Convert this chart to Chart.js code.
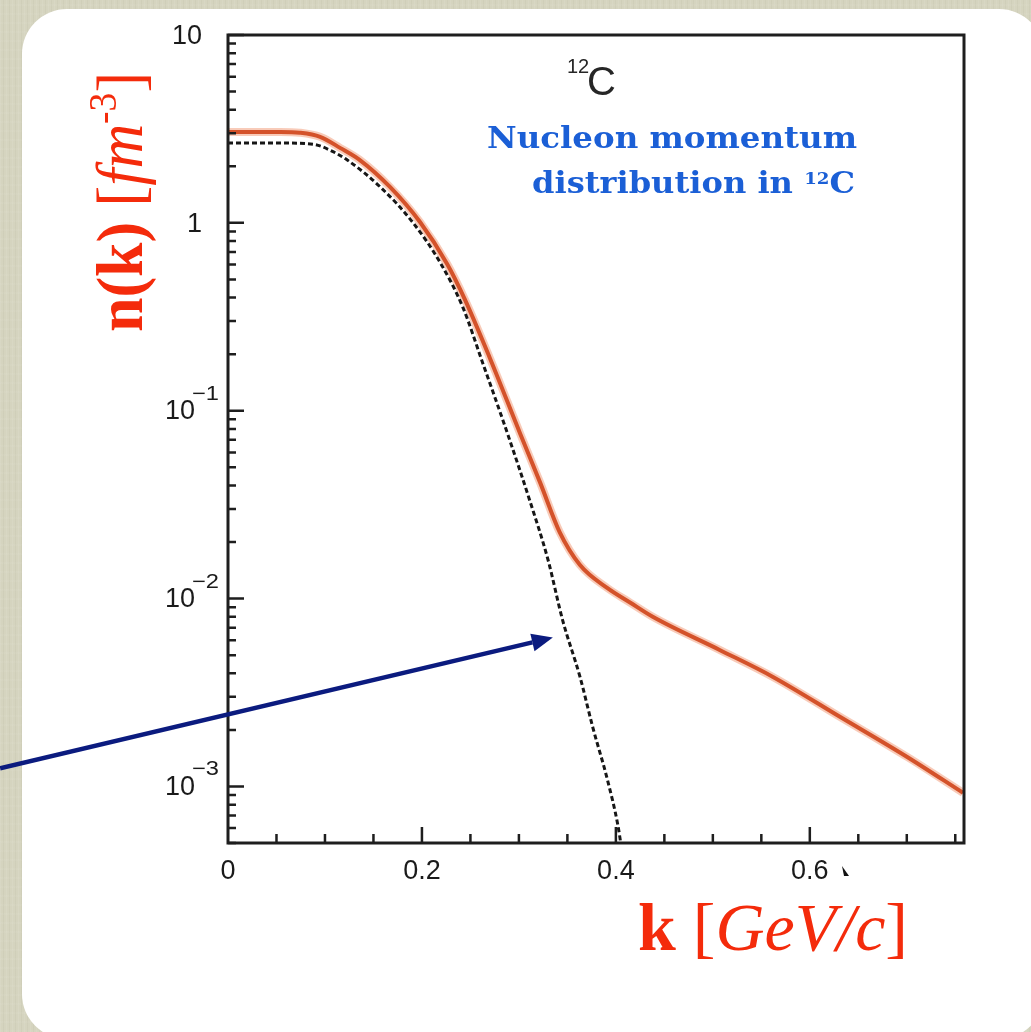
<!DOCTYPE html>
<html>
<head>
<meta charset="utf-8">
<script src="https://cdn.jsdelivr.net/npm/chart.js@4.4.1/dist/chart.umd.min.js"></script>
<style>
  html, body { margin: 0; padding: 0; }
  body {
    width: 1031px; height: 1032px; overflow: hidden; position: relative;
    background-color: #d5d4bf;
    background-image:
      repeating-linear-gradient(90deg, rgba(255,255,255,0.07) 0 1px, rgba(0,0,0,0) 1px 3px, rgba(120,118,90,0.06) 3px 4px, rgba(0,0,0,0) 4px 6px),
      repeating-linear-gradient(0deg, rgba(255,255,255,0.04) 0 2px, rgba(0,0,0,0) 2px 9px);
  }
  #panel { position: absolute; left: 22px; top: 9px; width: 1022px; height: 1030px; background: #fff; border-radius: 45px; }
  #chart { position: absolute; left: 0; top: 0; }
</style>
</head>
<body>
<div id="panel"></div>
<canvas id="chart" width="1031" height="1032"></canvas>
<script>
// momentum k [GeV/c] and n(k) [fm^-3]
const kFull = [0, 0.054, 0.074, 0.095, 0.116, 0.136, 0.167, 0.198, 0.226, 0.244, 0.270, 0.301, 0.322, 0.342, 0.363, 0.391, 0.415, 0.438, 0.507, 0.562, 0.631, 0.700, 0.758]
const nFull = [3.05, 3.05, 3.02, 2.87, 2.50, 2.16, 1.553, 1.01, 0.604, 0.394, 0.191, 0.0762, 0.0413, 0.0226, 0.0151, 0.0114, 0.0095, 0.0080, 0.00533, 0.00383, 0.00235, 0.00144, 0.000925]

// dashed curve (mean field part)
const kMF = [0, 0.054, 0.088, 0.105, 0.123, 0.157, 0.191, 0.219, 0.242, 0.263, 0.288, 0.311, 0.330, 0.345, 0.363, 0.376, 0.391, 0.402, 0.405]
const nMF = [2.66, 2.66, 2.62, 2.44, 2.16, 1.553, 0.999, 0.612, 0.357, 0.1775, 0.0762, 0.0335, 0.0161, 0.0077, 0.00383, 0.00208, 0.0011, 0.000625, 0.000501]

const xTickValues = [0, 0.2, 0.4, 0.6]
const xTickLabels = ['0', '0.2', '0.4', '0.6']
const yTickValues = [10, 1, 0.1, 0.01, 0.001]
const yTickBases = ['10', '1', '10', '10', '10']
const yTickExps = ['', '', '\u22121', '\u22122', '\u22123']

// arrow pointing at the dashed curve (data coordinates)
const arrowTail = { k: -0.235, n: 0.00125 }
const arrowHead = { k: 0.335, n: 0.0062 }

const RED = '#f42b0b'
const BLUE = '#1b5fd6'
const SANS = '"Liberation Sans", Arial, sans-serif'
const SERIF = '"Liberation Serif", serif'

function toPoints(xs, ys) {
  return xs.map((x, i) => ({ x: x, y: ys[i] }))
}

// draw a list of text runs on one baseline, squeezed/stretched to a target width
function drawRuns(ctx, runs, x, y, width) {
  let total = 0
  runs.forEach(r => { ctx.font = r.f; total += ctx.measureText(r.t).width })
  const sx = width ? width / total : 1
  ctx.save()
  ctx.translate(x, y)
  ctx.scale(sx, 1)
  let cx = 0
  runs.forEach(r => {
    ctx.font = r.f
    ctx.fillText(r.t, cx, r.dy || 0)
    cx += ctx.measureText(r.t).width
  })
  ctx.restore()
}

const decorations = {
  id: 'decorations',
  afterDraw(chart) {
    const { ctx, chartArea: a, scales: { x, y } } = chart
    ctx.save()

    // frame
    ctx.strokeStyle = '#1e1e1e'
    ctx.lineWidth = 3
    ctx.strokeRect(a.left, a.top, a.right - a.left, a.bottom - a.top)

    // inward ticks
    ctx.lineWidth = 2.5
    ctx.beginPath()
    for (let i = 1; i * 0.05 <= x.max + 1e-9; i++) {
      const v = i * 0.05
      const major = Math.abs(v / 0.2 - Math.round(v / 0.2)) < 1e-6
      const px = x.getPixelForValue(v)
      ctx.moveTo(px, a.bottom)
      ctx.lineTo(px, a.bottom - (major ? 16 : 9))
    }
    for (let e = -4; e <= 1; e++) {
      for (let m = 1; m <= 9; m++) {
        const v = m * Math.pow(10, e)
        if (v < y.min * 0.999 || v > y.max * 1.001) continue
        const py = y.getPixelForValue(v)
        ctx.moveTo(a.left, py)
        ctx.lineTo(a.left + (m === 1 ? 16 : 8), py)
      }
    }
    ctx.stroke()

    // tick labels
    ctx.fillStyle = '#1a1a1a'
    ctx.font = '27px ' + SANS
    ctx.textAlign = 'center'
    ctx.textBaseline = 'middle'
    xTickValues.forEach((v, i) => {
      ctx.fillText(xTickLabels[i], x.getPixelForValue(v), a.bottom + 29)
    })
    yTickValues.forEach((v, i) => {
      const py = y.getPixelForValue(v)
      ctx.font = '27px ' + SANS
      ctx.textBaseline = 'middle'
      if (!yTickExps[i]) {
        ctx.textAlign = 'right'
        ctx.fillText(yTickBases[i], a.left - 26, py + 2)
      } else {
        ctx.textAlign = 'right'
        ctx.fillText(yTickBases[i], a.left - 33, py + 1)
        ctx.textAlign = 'left'
        ctx.textBaseline = 'alphabetic'
        drawRuns(ctx, [{ t: yTickExps[i], f: '20px ' + SANS }], a.left - 36, py - 11, 27)
      }
    })

    // 12C label
    ctx.textAlign = 'left'
    ctx.textBaseline = 'alphabetic'
    ctx.fillStyle = '#262626'
    ctx.font = '20px ' + SANS
    ctx.fillText('12', 567, 73)
    ctx.font = '40px ' + SANS
    ctx.fillText('C', 587, 95)

    // blue annotation
    ctx.fillStyle = BLUE
    const bf = 'bold 30px "DejaVu Serif", serif'
    drawRuns(ctx, [{ t: 'Nucleon momentum', f: bf }], 487, 148, 370)
    drawRuns(ctx, [
      { t: 'distribution in ', f: bf },
      { t: '12', f: 'bold 17px "DejaVu Serif", serif', dy: -9 },
      { t: 'C', f: bf }
    ], 532, 193, 323)

    // axis titles
    ctx.fillStyle = RED
    drawRuns(ctx, [
      { t: 'k', f: 'bold 68px ' + SERIF },
      { t: ' [', f: '68px ' + SERIF },
      { t: 'GeV/c', f: 'italic 68px ' + SERIF },
      { t: ']', f: '68px ' + SERIF }
    ], 638, 950, 270)

    ctx.save()
    ctx.translate(142, 332)
    ctx.rotate(-Math.PI / 2)
    drawRuns(ctx, [
      { t: 'n(k)', f: 'bold 66px ' + SERIF },
      { t: ' [', f: '66px ' + SERIF },
      { t: 'fm', f: 'italic 66px ' + SERIF },
      { t: '-3', f: '40px ' + SERIF, dy: -26 },
      { t: ']', f: '66px ' + SERIF }
    ], 0, 0, 260)
    ctx.restore()

    // arrow
    const x0 = x.getPixelForValue(arrowTail.k), y0 = y.getPixelForValue(arrowTail.n)
    const x1 = x.getPixelForValue(arrowHead.k), y1 = y.getPixelForValue(arrowHead.n)
    const ang = Math.atan2(y1 - y0, x1 - x0)
    const hl = 21, hw = 9
    const bx = x1 - hl * Math.cos(ang), by = y1 - hl * Math.sin(ang)
    ctx.strokeStyle = '#0b1b7f'
    ctx.fillStyle = '#0b1b7f'
    ctx.lineWidth = 4.5
    ctx.beginPath()
    ctx.moveTo(x0, y0)
    ctx.lineTo(bx, by)
    ctx.stroke()
    ctx.beginPath()
    ctx.moveTo(x1, y1)
    ctx.lineTo(bx + hw * Math.sin(ang), by - hw * Math.cos(ang))
    ctx.lineTo(bx - hw * Math.sin(ang), by + hw * Math.cos(ang))
    ctx.closePath()
    ctx.fill()

    // small cursor mark near the 0.6 label
    ctx.fillStyle = '#111'
    ctx.beginPath()
    ctx.moveTo(842, 866)
    ctx.lineTo(849, 876)
    ctx.lineTo(844, 876)
    ctx.closePath()
    ctx.fill()

    ctx.restore()
  }
}

new Chart(document.getElementById('chart'), {
  type: 'scatter',
  data: {
    datasets: [
      {
        label: 'mean field',
        data: toPoints(kMF, nMF),
        showLine: true,
        borderColor: '#161616',
        borderWidth: 3,
        borderDash: [5, 3],
        pointRadius: 0,
        cubicInterpolationMode: 'monotone'
      },
      {
        label: 'full',
        data: toPoints(kFull, nFull),
        showLine: true,
        borderColor: '#d4522a',
        borderWidth: 4,
        pointRadius: 0,
        cubicInterpolationMode: 'monotone'
      },
      {
        label: 'full halo',
        data: toPoints(kFull, nFull),
        showLine: true,
        borderColor: 'rgba(240,140,100,0.45)',
        borderWidth: 8,
        pointRadius: 0,
        cubicInterpolationMode: 'monotone'
      }
    ]
  },
  options: {
    responsive: false,
    animation: false,
    events: [],
    layout: { padding: { left: 228, right: 67, top: 35, bottom: 189 } },
    scales: {
      x: { type: 'linear', min: 0, max: 0.759, display: false },
      y: { type: 'logarithmic', min: 5e-4, max: 10, display: false }
    },
    plugins: {
      legend: { display: false },
      tooltip: { enabled: false }
    }
  },
  plugins: [decorations]
})
</script>
</body>
</html>
